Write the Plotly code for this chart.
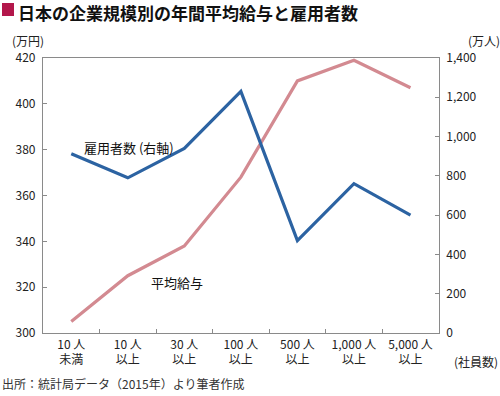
import plotly.graph_objects as go
from plotly.subplots import make_subplots

categories = ["10 人<br>未満", "10 人<br>以上", "30 人<br>以上", "100 人<br>以上",
              "500 人<br>以上", "1,000 人<br>以上", "5,000 人<br>以上"]
salary = [305, 325, 338, 368, 410, 419, 407]          # 平均給与 (万円, left axis)
employees = [913, 790, 940, 1230, 470, 760, 600]      # 雇用者数 (万人, right axis)
left_ticks = [300, 320, 340, 360, 380, 400, 420]
right_ticks = [0, 200, 400, 600, 800, 1000, 1200, 1400]
right_ticktext = ["0", "200", "400", "600", "800", "1,000", "1,200", "1,400"]

W, H = 500, 396
L, R, T, B = 43, 36, 58, 63
PW, PH = W - L - R, H - T - B

def px(x):
    return (x - L) / PW

def py(y):
    return (H - B - y) / PH

FONT = "Noto Sans CJK JP"
AXC = "#8a8a8a"

fig = make_subplots(specs=[[{"secondary_y": True}]])
fig.add_trace(go.Scatter(x=categories, y=salary, mode="lines",
                         line=dict(color="#d38a91", width=3.2),
                         showlegend=False, hoverinfo="skip"), secondary_y=False)
fig.add_trace(go.Scatter(x=categories, y=employees, mode="lines",
                         line=dict(color="#2c63a2", width=3.2),
                         showlegend=False, hoverinfo="skip"), secondary_y=True)

fig.update_layout(
    width=W, height=H,
    margin=dict(l=L, r=R, t=T, b=B, pad=0),
    plot_bgcolor="white", paper_bgcolor="white",
    font=dict(family=FONT, size=12, color="#222"),
    showlegend=False,
)
fig.update_xaxes(type="category", range=[-0.5, 6.5], tickson="boundaries",
                 ticks="inside", ticklen=4, tickcolor=AXC, tickwidth=1,
                 showline=True, linecolor=AXC, linewidth=1.2, mirror=True,
                 showgrid=False, zeroline=False,
                 tickfont=dict(family=FONT, size=12, color="#222"))
fig.update_yaxes(range=[300, 420], tickvals=left_ticks, ticks="inside", ticklen=4,
                 tickcolor=AXC, showline=True, linecolor=AXC, linewidth=1.2,
                 showgrid=False, zeroline=False, ticklabelstandoff=4,
                 tickfont=dict(family=FONT, size=12, color="#222"),
                 secondary_y=False)
fig.update_yaxes(range=[0, 1400], tickvals=right_ticks, ticktext=right_ticktext,
                 ticks="inside", ticklen=4, tickcolor=AXC, showline=True,
                 linecolor=AXC, linewidth=1.2, showgrid=False, zeroline=False,
                 ticklabelstandoff=4,
                 tickfont=dict(family=FONT, size=12, color="#222"),
                 secondary_y=True)

# title square
fig.add_shape(type="rect", xref="paper", yref="paper",
              x0=px(2), x1=px(14), y0=py(16), y1=py(3),
              fillcolor="#b3174b", line=dict(width=0))

ann = [
    dict(text="<b>日本の企業規模別の年間平均給与と雇用者数</b>", x=px(16), y=py(12),
         xanchor="left", yanchor="middle", font=dict(size=17, color="#111")),
    dict(text="(万円)", x=px(28), y=py(40), xanchor="center", yanchor="middle",
         font=dict(size=12)),
    dict(text="(万人)", x=px(484), y=py(40), xanchor="center", yanchor="middle",
         font=dict(size=12)),
    dict(text="(社員数)", x=px(500), y=py(361), xanchor="right", yanchor="middle",
         font=dict(size=12)),
    dict(text="出所：統計局データ（2015年）より筆者作成", x=px(0), y=py(383),
         xanchor="left", yanchor="middle", font=dict(size=12, color="#333")),
    dict(text="雇用者数 (右軸)", x=px(129), y=py(147), xanchor="center",
         yanchor="middle", font=dict(size=13, color="#111")),
    dict(text="平均給与", x=px(177), y=py(282), xanchor="center",
         yanchor="middle", font=dict(size=13, color="#111")),
]
for a in ann:
    a.update(xref="paper", yref="paper", showarrow=False)
    a["font"].setdefault("family", FONT)
    fig.add_annotation(**a)

fig.write_html("out.html", config={"displayModeBar": False},
               post_script="document.body.style.margin='0';document.body.style.padding='0';")
